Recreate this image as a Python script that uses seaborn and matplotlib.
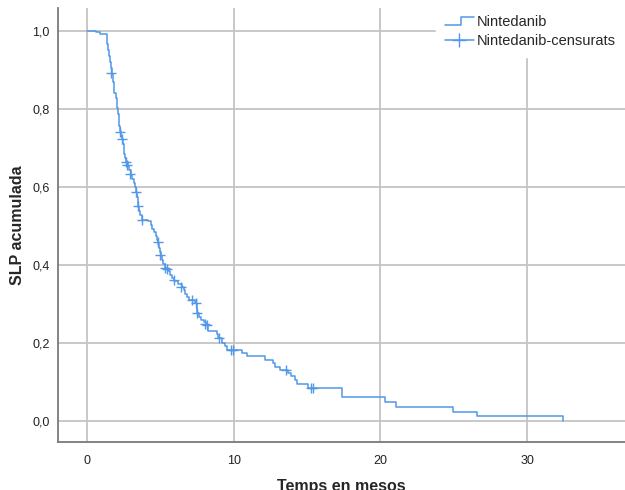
import matplotlib
matplotlib.use("Agg")
import matplotlib.pyplot as plt
from matplotlib.lines import Line2D
from matplotlib.legend_handler import HandlerBase
import seaborn as sns
import pandas as pd

# Kaplan-Meier step points (time in months, cumulative PFS after the step)
step_time = [0.0, 0.61, 0.89, 1.33, 1.38, 1.45, 1.51, 1.57, 1.62, 1.67, 1.74, 1.79, 1.82, 1.84,
             1.98, 2.02, 2.07, 2.11, 2.15, 2.19, 2.23, 2.32, 2.39, 2.44, 2.49, 2.54, 2.62, 2.68,
             2.76, 2.86, 2.97, 3.07, 3.17, 3.27, 3.36, 3.41, 3.46, 3.50, 3.56, 3.63, 3.72,
             4.16, 4.33, 4.43, 4.57, 4.67, 4.74, 4.81, 4.89, 4.96, 5.02, 5.11, 5.20, 5.30,
             5.54, 5.66, 5.79, 5.96, 6.20, 6.44, 6.58, 6.71, 6.84, 6.95, 7.36, 7.48, 7.52,
             7.63, 7.77, 7.94, 8.11, 8.25, 8.88, 8.96, 9.20, 9.37, 9.54, 10.57, 10.89, 12.13,
             12.66, 12.82, 13.16, 13.72, 13.89, 14.18, 14.34, 15.09, 17.36, 20.31, 21.06,
             24.97, 26.56, 32.43]
step_surv = [1.000, 0.997, 0.992, 0.982, 0.967, 0.951, 0.936, 0.921, 0.905, 0.890, 0.879, 0.869,
             0.856, 0.841, 0.828, 0.815, 0.803, 0.787, 0.772, 0.756, 0.744, 0.731, 0.723, 0.710,
             0.697, 0.685, 0.674, 0.664, 0.654, 0.644, 0.631, 0.621, 0.610, 0.600, 0.587, 0.574,
             0.562, 0.549, 0.538, 0.528, 0.515, 0.512, 0.503, 0.492, 0.485, 0.474, 0.464, 0.454,
             0.444, 0.433, 0.423, 0.413, 0.403, 0.392, 0.385, 0.374, 0.367, 0.359, 0.351, 0.344,
             0.336, 0.326, 0.318, 0.310, 0.303, 0.290, 0.277, 0.267, 0.259, 0.253, 0.246, 0.231,
             0.223, 0.213, 0.200, 0.191, 0.182, 0.174, 0.167, 0.156, 0.149, 0.139, 0.131, 0.123,
             0.114, 0.105, 0.095, 0.084, 0.0605, 0.0484, 0.0363, 0.0242, 0.0121, 0.0]

# Censored observations
cens_time = [1.64, 2.25, 2.39, 2.66, 2.73, 2.93, 3.34, 3.48, 3.75, 4.84, 4.98, 5.32, 5.45,
             5.93, 6.41, 7.16, 7.43, 7.50, 8.04, 8.20, 8.99, 9.82, 9.95, 13.57, 15.27, 15.41]
cens_surv = [0.892, 0.742, 0.723, 0.664, 0.656, 0.633, 0.587, 0.551, 0.515, 0.459, 0.426,
             0.392, 0.390, 0.362, 0.344, 0.310, 0.303, 0.277, 0.249, 0.246, 0.213, 0.182,
             0.182, 0.131, 0.084, 0.084]

x_ticks = [0, 10, 20, 30]
y_ticks = [0.0, 0.2, 0.4, 0.6, 0.8, 1.0]
y_tick_labels = ["0,0", "0,2", "0,4", "0,6", "0,8", "1,0"]

sns.set_style("white")
plt.rcParams["font.family"] = ["Liberation Sans", "DejaVu Sans"]

color = "#5297ea"
fig = plt.figure(figsize=(6.25, 4.9), dpi=100)
ax = fig.add_axes([58 / 625, 48 / 490, 1 - 58 / 625, (442 - 8) / 490])

df_steps = pd.DataFrame({"t": step_time, "s": step_surv})
df_cens = pd.DataFrame({"t": cens_time, "s": cens_surv})

sns.lineplot(data=df_steps, x="t", y="s", drawstyle="steps-post", estimator=None,
             color=color, linewidth=1.1, ax=ax, zorder=3)
sns.scatterplot(data=df_cens, x="t", y="s", marker="+", s=60, color=color,
                linewidth=1.0, ax=ax, zorder=4)

ax.set_xlim(-1.98, 36.67)
ax.set_ylim(-0.054, 1.059)
ax.set_xticks(x_ticks)
ax.set_yticks(y_ticks)
ax.set_yticklabels(y_tick_labels)
ax.tick_params(axis="both", length=0, labelsize=9, colors="#222222")
ax.tick_params(axis="y", pad=6)
ax.tick_params(axis="x", pad=9)
ax.grid(True, color="#c4c4c4", linewidth=1.3, zorder=0)
ax.set_axisbelow(True)
for side in ["top", "right"]:
    ax.spines[side].set_visible(False)
for side in ["left", "bottom"]:
    ax.spines[side].set_color("#7a7a7a")
    ax.spines[side].set_linewidth(1.3)

ax.set_xlabel("Temps en mesos", fontsize=11.5, fontweight="bold", labelpad=9)
ax.set_ylabel("SLP acumulada", fontsize=11.5, fontweight="bold", labelpad=5)


class StepHandler(HandlerBase):
    def create_artists(self, legend, orig_handle, xdescent, ydescent, width, height, fontsize, trans):
        x0, x1 = -xdescent, -xdescent + width
        xm = x0 + width * 0.55
        ylow = -ydescent + height * 0.15
        yhigh = -ydescent + height * 0.95
        line = Line2D([x0, xm, xm, x1], [ylow, ylow, yhigh, yhigh], color=color, linewidth=1.1)
        line.set_transform(trans)
        return [line]


h_step = Line2D([], [], color=color)
h_cens = Line2D([], [], color=color, marker="+", markersize=10, linewidth=1.1)
leg = ax.legend([h_step, h_cens], ["Nintedanib", "Nintedanib-censurats"],
                handler_map={h_step: StepHandler()},
                loc="upper right", bbox_to_anchor=(1.012, 1.02), fontsize=10.5,
                frameon=True, framealpha=1, edgecolor="white", facecolor="white",
                handlelength=2.0, handletextpad=0.2, labelspacing=0.35, borderpad=0.6)

fig.savefig("out.png", dpi=100)
